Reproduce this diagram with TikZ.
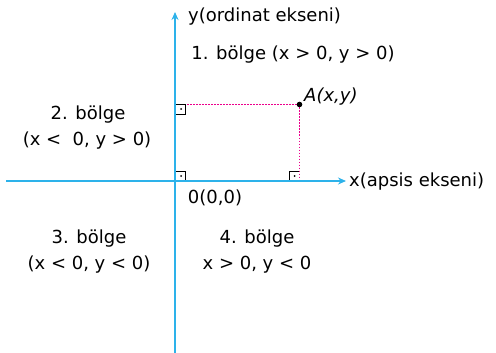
\documentclass[tikz,border=0pt]{standalone}
\usepackage{fontspec}
\setmainfont{DejaVu Sans}
\usetikzlibrary{arrows.meta}
\definecolor{axisblue}{RGB}{45,178,234}
\definecolor{dotmag}{RGB}{236,0,140}
\begin{document}
\begin{tikzpicture}[x=1pt,y=-1pt,
  axis/.style={axisblue,line width=2pt,-{Stealth[length=8pt,width=7pt]}},
  guide/.style={dotmag,line width=1pt,dash pattern=on 1.5pt off 1.5pt},
  rmark/.style={black,line width=0.8pt},
  lbl/.style={font=\fontsize{18}{21}\selectfont,inner sep=0pt,align=center}]
\useasboundingbox (0,0) rectangle (496,353);
\coordinate (O) at (175,181);
\coordinate (xs) at (6,181);
\coordinate (xe) at (346,181);
\coordinate (ys) at (175,353);
\coordinate (ye) at (175,12);
\coordinate (A) at (299.5,104.5);
\coordinate (Ay) at (175,104.5);
\coordinate (Ax) at (299.5,181);
\draw[guide] (Ay) -- (A);
\draw[guide] (A) -- (Ax);
\draw[axis] (xs) -- (xe);
\draw[axis] (ys) -- (ye);
\fill (A) circle (2.8pt);
% right-angle marks
\draw[rmark] (176,104.5) -- (185.5,104.5) -- (185.5,114) -- (176,114);
\fill (181,109) circle (1pt);
\draw[rmark] (176,171) -- (185.5,171) -- (185.5,180);
\fill (181,176) circle (1pt);
\draw[rmark] (289.5,180) -- (289.5,171) -- (299,171);
\fill (294.5,176) circle (1pt);
% labels
\node[lbl,anchor=west] (ylab) at (188,17) {y(ordinat ekseni)};
\node[lbl] (q1) at (293,55) {1. bölge (x > 0, y > 0)};
\node[lbl,anchor=west] (Alab) at (304,97) {\itshape A(x,y)};
\node[lbl] (q2a) at (88,115) {2. bölge};
\node[lbl] (q2b) at (87,141) {(x <\ \ 0, y > 0)};
\node[lbl,anchor=west] (xlab) at (349,182) {x(apsis ekseni)};
\node[lbl] (olab) at (215,198) {0(0,0)};
\node[lbl] (q3a) at (89,239) {3. bölge};
\node[lbl] (q3b) at (89,265) {(x < 0, y < 0)};
\node[lbl] (q4a) at (257,239) {4. bölge};
\node[lbl] (q4b) at (257,265) {x > 0, y < 0};
\end{tikzpicture}
\end{document}
